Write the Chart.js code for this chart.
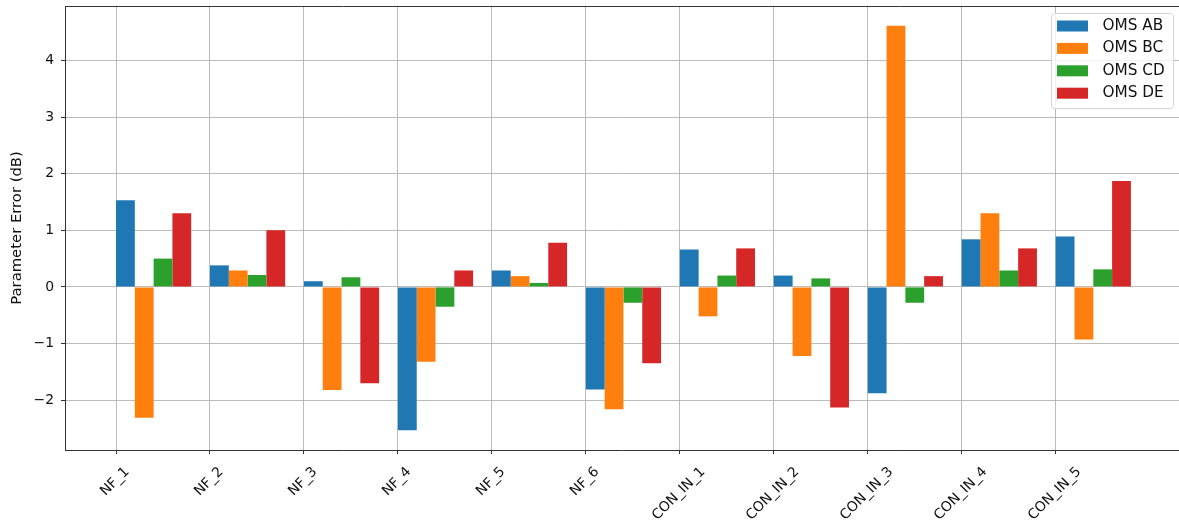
<!DOCTYPE html>
<html>
<head>
<meta charset="utf-8">
<title>Parameter Error</title>
<script src="https://cdn.jsdelivr.net/npm/chart.js@4.4.1/dist/chart.umd.min.js"></script>
<style>
  html, body { margin: 0; padding: 0; background: #fff; }
  #chart { display: block; }
</style>
</head>
<body>
<canvas id="chart" width="1179" height="524"></canvas>
<script>
const categories = ['NF_1', 'NF_2', 'NF_3', 'NF_4', 'NF_5', 'NF_6',
  'CON_IN_1', 'CON_IN_2', 'CON_IN_3', 'CON_IN_4', 'CON_IN_5'];
const seriesNames = ['OMS AB', 'OMS BC', 'OMS CD', 'OMS DE'];
const omsAB = [1.53, 0.38, 0.10, -2.53, 0.29, -1.81, 0.66, 0.20, -1.88, 0.84, 0.89];
const omsBC = [-2.31, 0.29, -1.82, -1.32, 0.19, -2.16, -0.52, -1.22, 4.61, 1.30, -0.93];
const omsCD = [0.50, 0.21, 0.17, -0.35, 0.07, -0.28, 0.20, 0.15, -0.28, 0.29, 0.31];
const omsDE = [1.30, 1.00, -1.70, 0.29, 0.78, -1.35, 0.68, -2.13, 0.19, 0.68, 1.87];
const yTicks = [-2, -1, 0, 1, 2, 3, 4];

const colors = ['#1f77b4', '#ff7f0e', '#2ca02c', '#d62728'];
const FONT = '"DejaVu Sans", "Liberation Sans", sans-serif';
const GRID = 'rgba(176,176,176,0.85)';

// bars sit to the right of each tick (matplotlib style x + i*width)
const barWidth = 0.2;
const groupOffset = barWidth * seriesNames.length / 2;

function toPoints(values) {
  return values.map((v, i) => ({ x: i + groupOffset, y: v }));
}

const frameAndLegend = {
  id: 'frameAndLegend',
  afterDraw(chart) {
    const { ctx, chartArea } = chart;
    ctx.save();

    // top spine
    ctx.strokeStyle = '#333';
    ctx.lineWidth = 1;
    ctx.beginPath();
    ctx.moveTo(chartArea.left, chartArea.top + 0.5);
    ctx.lineTo(chartArea.right, chartArea.top + 0.5);
    ctx.stroke();

    // rotated x labels, bbox centred under the tick
    const xScale = chart.scales.x;
    ctx.font = '13.9px ' + FONT;
    ctx.fillStyle = '#111';
    ctx.textAlign = 'center';
    ctx.textBaseline = 'middle';
    xScale.ticks.forEach(t => {
      const label = categories[t.value];
      if (!label) return;
      const w = ctx.measureText(label).width;
      const half = (w + 16) * Math.SQRT1_2 / 2;
      const px = xScale.getPixelForValue(t.value);
      ctx.save();
      ctx.translate(px - 1, chartArea.bottom + 14 + half);
      ctx.rotate(-Math.PI / 4);
      ctx.fillText(label, 0, 0);
      ctx.restore();
    });

    // legend box
    const bx = 1051.5, by = 13.5, bw = 122, bh = 95;
    ctx.fillStyle = 'rgba(255,255,255,0.8)';
    ctx.strokeStyle = '#d5d5d5';
    ctx.beginPath();
    ctx.roundRect(bx, by, bw, bh, 3);
    ctx.fill();
    ctx.stroke();

    ctx.font = '15.3px ' + FONT;
    ctx.textAlign = 'left';
    chart.data.datasets.forEach((ds, i) => {
      const cy = 26 + i * 22.4;
      ctx.fillStyle = ds.backgroundColor;
      ctx.fillRect(1057, cy - 5.5, 31, 11);
      ctx.fillStyle = '#111';
      ctx.fillText(ds.label, 1102.5, cy);
    });
    ctx.restore();
  }
};

function renderChart() {
  const ctx = document.getElementById('chart');
  const seriesValues = [omsAB, omsBC, omsCD, omsDE];

  new Chart(ctx, {
    type: 'bar',
    data: {
      datasets: seriesNames.map((name, i) => ({
        label: name,
        data: toPoints(seriesValues[i]),
        backgroundColor: colors[i],
        borderWidth: 0,
        categoryPercentage: 0.8,
        barPercentage: 1.0
      }))
    },
    options: {
      responsive: false,
      animation: false,
      devicePixelRatio: 1,
      layout: { padding: { top: 6, left: 0, right: 0, bottom: 0 } },
      plugins: {
        legend: { display: false },
        tooltip: { enabled: false }
      },
      scales: {
        x: {
          type: 'linear',
          min: -0.543,
          max: 11.312,
          offset: false,
          z: 1,
          grid: {
            offset: false,
            color: GRID,
            lineWidth: 1,
            drawTicks: true,
            tickLength: 4,
            tickColor: '#333'
          },
          border: { color: '#333', width: 1 },
          ticks: { display: false, includeBounds: false },
          afterBuildTicks(scale) {
            scale.ticks = categories.map((_, i) => ({ value: i }));
          },
          afterFit(scale) {
            scale.height = 74;
            scale.paddingLeft = 0;
            scale.paddingRight = 0;
          }
        },
        y: {
          min: -2.88,
          max: 4.96,
          z: 1,
          grid: {
            color: GRID,
            lineWidth: 1,
            tickLength: 4,
            tickColor: '#333'
          },
          border: { color: '#333', width: 1 },
          ticks: {
            includeBounds: false,
            padding: 7,
            color: '#111',
            font: { family: FONT, size: 13.9 },
            callback: v => (v < 0 ? '\u2212' + Math.abs(v) : String(v))
          },
          afterBuildTicks(scale) {
            scale.ticks = yTicks.map(v => ({ value: v }));
          },
          title: {
            display: true,
            text: 'Parameter Error (dB)',
            color: '#111',
            font: { family: FONT, size: 14.8 },
            padding: { top: 8, bottom: 0 }
          },
          afterFit(scale) {
            scale.width = 65;
            scale.paddingTop = 0;
            scale.paddingBottom = 0;
          }
        }
      }
    },
    plugins: [frameAndLegend]
  });
}

document.addEventListener('DOMContentLoaded', renderChart);
</script>
</body>
</html>
